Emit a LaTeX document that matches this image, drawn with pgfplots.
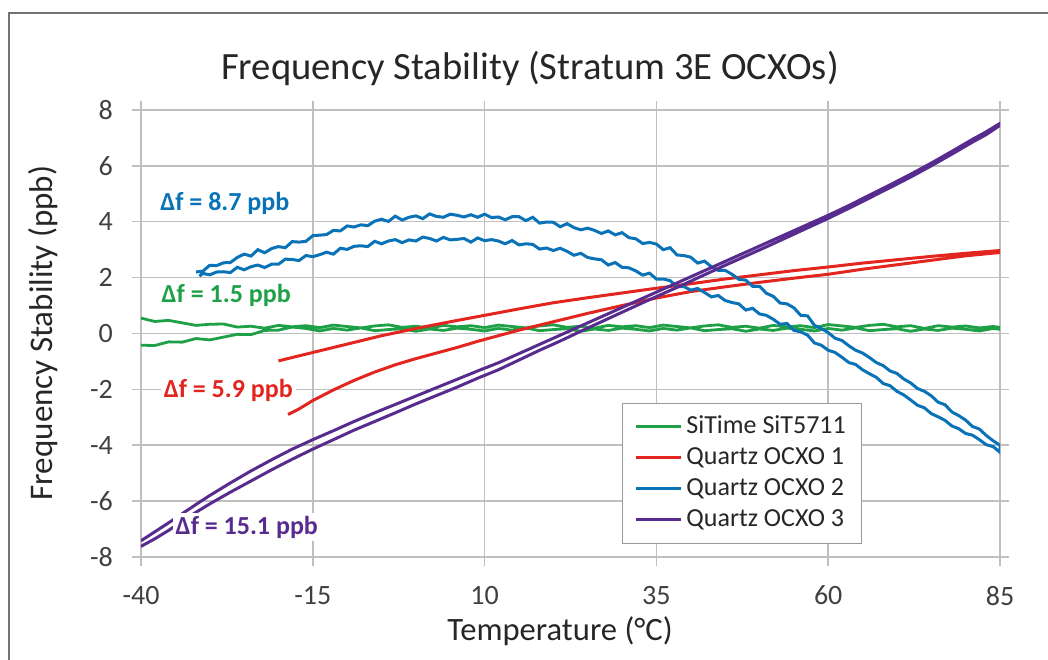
\documentclass[border=0pt]{standalone}
\usepackage{fontspec}
\setmainfont{Carlito}
\usepackage{pgfplots}
\pgfplotsset{compat=1.18}

\definecolor{cgreen}{RGB}{30,160,70}
\definecolor{cred}{RGB}{226,37,30}
\definecolor{cblue}{RGB}{10,114,182}
\definecolor{cpurple}{RGB}{88,44,142}
\definecolor{cgrid}{RGB}{191,191,191}
\definecolor{ctext}{RGB}{64,64,64}

\begin{document}
\begin{tikzpicture}
\useasboundingbox (-70.5pt,-51pt) rectangle (453.5pt,278.5pt);
\begin{axis}[
    at={(0,0)}, anchor=south west,
    scale only axis,
    width=429.5pt, height=223.5pt,
    xmin=-40, xmax=85, ymin=-8, ymax=8,
    xtick={-40,-15,10,35,60,85},
    ytick={-8,-6,-4,-2,0,2,4,6,8},
    grid=major,
    major grid style={cgrid, line width=0.75pt},
    axis line style={cgrid, line width=0.75pt},
    tick style={cgrid, line width=0.75pt},
    tick align=outside,
    major tick length=4.5pt,
    /pgf/number format/assume math mode=true,
    tick label style={font=\fontsize{14}{16}\selectfont, text=ctext},
    xticklabel style={yshift=-6.5pt},
    yticklabel style={xshift=-6pt},
    legend style={at={(axis cs:30,-7.53)}, anchor=south west,
        draw=gray!80, fill=white, font=\fontsize{13}{15}\selectfont,
        text=black!85, inner xsep=6pt, inner ysep=4pt, row sep=0pt,
        nodes={text height=10pt, text depth=3.5pt, inner ysep=1pt}},
    legend cell align=left,
    legend image code/.code={\draw[#1, line width=1.5pt] (0pt,0pt) -- (22.5pt,0pt);},
]
% SiTime SiT5711
\addplot[cgreen, line width=1.4pt] coordinates {
(-40,0.55) (-38,0.43) (-36,0.47) (-34,0.38) (-32,0.29) (-30,0.33) (-28,0.34) (-26,0.23)
(-24,0.26) (-22,0.19) (-20,0.29) (-18,0.24) (-16,0.28) (-14,0.21) (-12,0.30) (-10,0.25)
(-8,0.20) (-6,0.27) (-4,0.31) (-2,0.22) (0,0.26) (2,0.19) (4,0.29) (6,0.24) (8,0.28)
(10,0.21) (12,0.30) (14,0.25) (16,0.20) (18,0.27) (20,0.31) (22,0.22) (24,0.26) (26,0.19)
(28,0.29) (30,0.24) (32,0.28) (34,0.21) (36,0.30) (38,0.25) (40,0.20) (42,0.27) (44,0.31)
(46,0.22) (48,0.26) (50,0.19) (52,0.29) (54,0.24) (56,0.28) (58,0.21) (60,0.32) (62,0.27)
(64,0.22) (66,0.29) (68,0.33) (70,0.24) (72,0.28) (74,0.18) (76,0.28) (78,0.23) (80,0.27)
(82,0.20) (84,0.25) (85,0.22)
(85,0.15) (84,0.18) (82,0.09) (80,0.15) (78,0.19) (76,0.11) (74,0.16) (72,0.08) (70,0.17)
(68,0.14) (66,0.10) (64,0.20) (62,0.12) (60,0.18) (58,0.09) (56,0.15) (54,0.19) (52,0.11)
(50,0.16) (48,0.08) (46,0.17) (44,0.14) (42,0.10) (40,0.20) (38,0.12) (36,0.18) (34,0.09)
(32,0.15) (30,0.19) (28,0.11) (26,0.16) (24,0.08) (22,0.17) (20,0.14) (18,0.10) (16,0.20)
(14,0.12) (12,0.18) (10,0.09) (8,0.15) (6,0.19) (4,0.11) (2,0.16) (0,0.08) (-2,0.17)
(-4,0.14) (-6,0.10) (-8,0.20) (-10,0.12) (-12,0.18) (-14,0.09) (-16,0.18) (-18,0.23)
(-20,0.12) (-22,0.11) (-24,-0.04) (-26,-0.03) (-28,-0.13) (-30,-0.23) (-32,-0.18)
(-34,-0.31) (-36,-0.30) (-38,-0.43) (-40,-0.42)
};
\addlegendentry{SiTime SiT5711}
% Quartz OCXO 1
\addplot[cred, line width=1.5pt] coordinates {
(-20,-0.98) (-15,-0.68) (-10,-0.38) (-5,-0.08) (0,0.18) (5,0.42) (10,0.65) (15,0.88)
(20,1.10) (25,1.28) (30,1.45) (35,1.62) (40,1.78) (45,1.95) (50,2.10) (55,2.25) (60,2.38)
(65,2.52) (70,2.64) (75,2.76) (80,2.87) (85,2.97)
(85,2.90) (80,2.78) (75,2.62) (70,2.46) (65,2.30) (60,2.12) (55,1.98) (50,1.83) (45,1.67)
(40,1.50) (35,1.27) (30,1.00) (25,0.72) (20,0.42) (15,0.12) (12,-0.08) (9,-0.28) (6,-0.50)
(3,-0.70) (0,-0.90) (-3,-1.12) (-6,-1.38) (-9,-1.68) (-12,-2.02) (-15,-2.40) (-17,-2.70)
(-18.6,-2.90)
};
\addlegendentry{Quartz OCXO 1}
% Quartz OCXO 2
\addplot[cblue, line width=1.5pt] coordinates {
(-32,2.20) (-31,2.23) (-30,2.44) (-29,2.43) (-28,2.53) (-27,2.54) (-26,2.72) (-25,2.84)
(-24,2.77) (-23,3.00) (-22,2.89) (-21,3.04) (-20,3.11) (-19,3.07) (-18,3.29) (-17,3.27)
(-16,3.30) (-15,3.50) (-14,3.52) (-13,3.54) (-12,3.69) (-11,3.67) (-10,3.85) (-9,3.81)
(-8,3.89) (-7,3.86) (-6,4.02) (-5,4.09) (-4,4.01) (-3,4.20) (-2,4.06) (-1,4.16) (0,4.21)
(1,4.11) (2,4.28) (3,4.19) (4,4.16) (5,4.27) (6,4.23) (7,4.17) (8,4.25) (9,4.16) (10,4.27)
(11,4.15) (12,4.17) (13,4.07) (14,4.18) (15,4.18) (16,4.04) (17,4.16) (18,3.95) (19,3.99)
(20,3.98) (21,3.82) (22,3.93) (23,3.79) (24,3.71) (25,3.77) (26,3.69) (27,3.58) (28,3.67)
(29,3.53) (30,3.61) (31,3.43) (32,3.39) (33,3.22) (34,3.26) (35,3.20) (36,3.00) (37,3.07)
(38,2.81) (39,2.79) (40,2.73) (41,2.52) (42,2.59) (43,2.39) (44,2.26) (45,2.26) (46,2.12)
(47,1.94) (48,1.91) (49,1.69) (50,1.69) (51,1.44) (52,1.33) (53,1.09) (54,1.06) (55,0.92)
(56,0.65) (57,0.63) (58,0.29) (59,0.18) (60,0.03) (61,-0.17) (62,-0.25) (63,-0.44)
(64,-0.60) (65,-0.70) (66,-0.86) (67,-1.04) (68,-1.15) (69,-1.34) (70,-1.43) (71,-1.63)
(72,-1.77) (73,-1.97) (74,-2.07) (75,-2.23) (76,-2.46) (77,-2.55) (78,-2.81) (79,-2.94)
(80,-3.10) (81,-3.33) (82,-3.42) (83,-3.65) (84,-3.84) (85,-4.00)
(85,-4.25) (84,-4.05) (83,-3.98) (82,-3.80) (81,-3.64) (80,-3.58) (79,-3.41) (78,-3.31)
(77,-3.11) (76,-2.98) (75,-2.87) (74,-2.66) (73,-2.57) (72,-2.38) (71,-2.20) (70,-2.07)
(69,-1.87) (68,-1.79) (67,-1.57) (66,-1.44) (65,-1.30) (64,-1.11) (63,-1.04) (62,-0.85)
(61,-0.68) (60,-0.60) (59,-0.42) (58,-0.34) (57,-0.06) (56,0.06) (55,0.11) (54,0.36)
(53,0.33) (52,0.51) (51,0.65) (50,0.70) (49,0.90) (48,0.84) (47,1.06) (46,1.11) (45,1.18)
(44,1.36) (43,1.31) (42,1.47) (41,1.61) (40,1.55) (39,1.68) (38,1.68) (37,1.89) (36,1.95)
(35,1.95) (34,2.16) (33,2.09) (32,2.24) (31,2.35) (30,2.37) (29,2.54) (28,2.45) (27,2.64)
(26,2.67) (25,2.72) (24,2.87) (23,2.80) (22,2.94) (21,3.05) (20,2.97) (19,3.06) (18,3.02)
(17,3.19) (16,3.21) (15,3.17) (14,3.33) (13,3.21) (12,3.31) (11,3.36) (10,3.32) (9,3.42)
(8,3.27) (7,3.40) (6,3.37) (5,3.35) (4,3.44) (3,3.31) (2,3.40) (1,3.45) (0,3.31) (-1,3.35)
(-2,3.25) (-3,3.36) (-4,3.31) (-5,3.21) (-6,3.30) (-7,3.11) (-8,3.14) (-9,3.12) (-10,3.01)
(-11,3.05) (-12,2.84) (-13,2.91) (-14,2.82) (-15,2.75) (-16,2.79) (-17,2.61) (-18,2.65)
(-19,2.66) (-20,2.48) (-21,2.48) (-22,2.36) (-23,2.45) (-24,2.39) (-25,2.28) (-26,2.37)
(-27,2.18) (-28,2.21) (-29,2.20) (-30,2.10) (-31,2.15) (-31.5,2.05)
};
\addlegendentry{Quartz OCXO 2}
% Quartz OCXO 3
\addplot[cpurple, line width=1.5pt] coordinates {
(-40,-7.42) (-38,-7.10) (-36,-6.78) (-34,-6.45) (-32,-6.12) (-30,-5.80) (-27,-5.35)
(-24,-4.92) (-21,-4.52) (-18,-4.14) (-15,-3.80) (-12,-3.48) (-9,-3.15) (-6,-2.84)
(-3,-2.54) (0,-2.24) (3,-1.94) (6,-1.64) (9,-1.34) (12,-1.05) (15,-0.72) (18,-0.39)
(21,-0.06) (24,0.27) (27,0.60) (30,0.93) (33,1.26) (36,1.59) (39,1.92) (42,2.25) (45,2.58)
(48,2.91) (51,3.24) (54,3.57) (57,3.90) (60,4.23) (63,4.58) (66,4.95) (69,5.32) (72,5.70)
(75,6.10) (78,6.52) (81,6.95) (83,7.22) (85,7.52)
(85,7.45) (83,7.12) (81,6.85) (78,6.42) (75,6.00) (72,5.60) (69,5.22) (66,4.85) (63,4.48)
(60,4.12) (57,3.78) (54,3.44) (51,3.10) (48,2.77) (45,2.44) (42,2.10) (39,1.76) (36,1.43)
(33,1.10) (30,0.76) (27,0.42) (24,0.08) (21,-0.27) (18,-0.60) (15,-0.95) (12,-1.30)
(9,-1.60) (6,-1.92) (3,-2.22) (0,-2.52) (-3,-2.84) (-6,-3.15) (-9,-3.46) (-12,-3.80)
(-15,-4.14) (-18,-4.50) (-21,-4.88) (-24,-5.28) (-27,-5.68) (-30,-6.10) (-32,-6.40)
(-34,-6.72) (-36,-7.05) (-38,-7.35) (-40,-7.62)
};
\addlegendentry{Quartz OCXO 3}

\node[fill=white, inner sep=1.5pt, text=cblue, font=\fontsize{13}{15}\selectfont\bfseries] at (axis cs:-27.8,4.67) {Δf = 8.7 ppb};
\node[fill=white, inner sep=1.5pt, text=cgreen, font=\fontsize{13}{15}\selectfont\bfseries] at (axis cs:-27.6,1.38) {Δf = 1.5 ppb};
\node[fill=white, inner sep=1.5pt, text=cred, font=\fontsize{13}{15}\selectfont\bfseries] at (axis cs:-27.3,-2.02) {Δf = 5.9 ppb};
\node[fill=white, inner sep=1.5pt, text=cpurple, font=\fontsize{13}{15}\selectfont\bfseries] at (axis cs:-24.6,-6.93) {Δf = 15.1 ppb};
\end{axis}
\draw[color=black!55, line width=0.75pt] (-66pt,-60pt) -- (-66pt,272pt) -- (460pt,272pt);
\node[text=black!85, font=\fontsize{19.3}{23}\selectfont] at (194.5pt,244.5pt) {Frequency Stability (Stratum 3E OCXOs)};
\node[text=black!85, font=\fontsize{16.3}{19}\selectfont] at (209.5pt,-37pt) {Temperature (°C)};
\node[text=black!85, font=\fontsize{16.5}{19}\selectfont, rotate=90] at (-49pt,112pt) {Frequency Stability (ppb)};
\end{tikzpicture}
\end{document}
